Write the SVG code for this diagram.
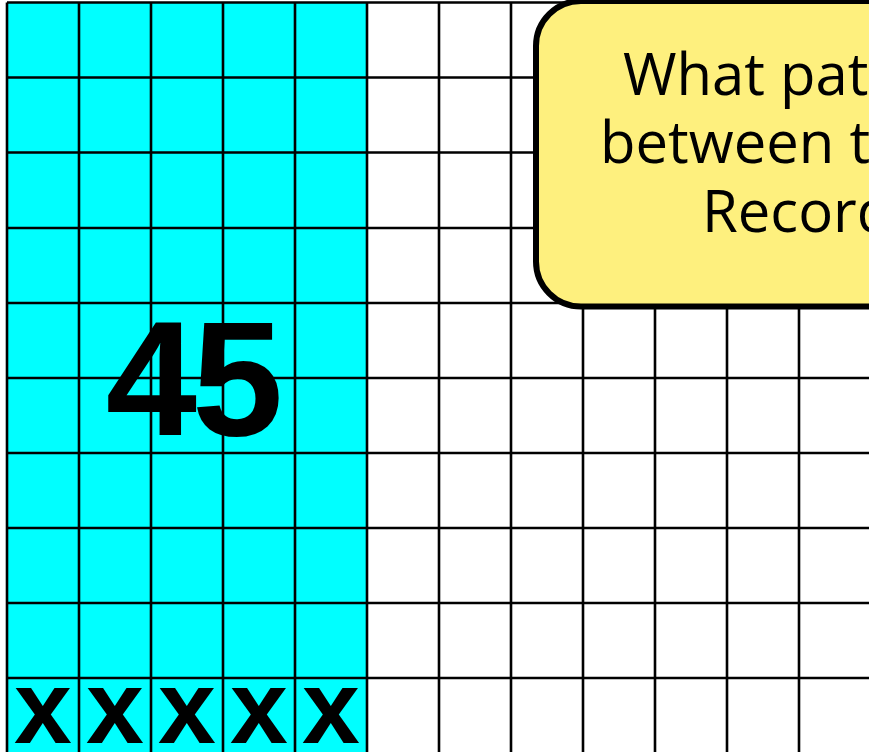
<svg xmlns="http://www.w3.org/2000/svg" width="869" height="752" viewBox="0 0 869 752">
<style>
.g{stroke:#000;stroke-width:2.6;fill:none}
.x{font-family:"Liberation Sans",Arial,sans-serif;font-weight:bold;font-size:104px;fill:#000;text-anchor:middle}
.q{font-family:"Open Sans","DejaVu Sans",sans-serif;font-size:58px;fill:#000}
</style>
<rect width="869" height="752" fill="#fff"/>
<g id="grid">
<rect x="7" y="2.5" width="360" height="752" fill="#00FFFF"/>
<path class="g" d="M7 2.5V752M79 2.5V752M151 2.5V752M223 2.5V752M295 2.5V752M367 2.5V752M439 2.5V752M511 2.5V752M583 2.5V752M655 2.5V752M727 2.5V752M799 2.5V752"/>
<path class="g" d="M7 2.5H869M7 77.5H869M7 152.5H869M7 228H869M7 303H869M7 378H869M7 453H869M7 528H869M7 603H869M7 678H869"/>
</g>
<g id="label45">
<text x="192" y="435" font-family="Liberation Sans,Arial,sans-serif" font-weight="bold" font-size="164" letter-spacing="-5" text-anchor="middle" fill="#000">45</text>
</g>
<g id="marks">
<text class="x" x="43" y="743">x</text>
<text class="x" x="115" y="743">x</text>
<text class="x" x="187" y="743">x</text>
<text class="x" x="259" y="743">x</text>
<text class="x" x="331" y="743">x</text>
</g>
<g id="callout">
<rect x="536" y="1" width="420" height="305.5" rx="45" ry="45" fill="#FEF07E" stroke="#000" stroke-width="6"/>
<text class="q" x="623" y="95">What pat</text>
<text class="q" x="600" y="163">between t</text>
<text class="q" x="702" y="231.5">Record</text>
</g>
</svg>
